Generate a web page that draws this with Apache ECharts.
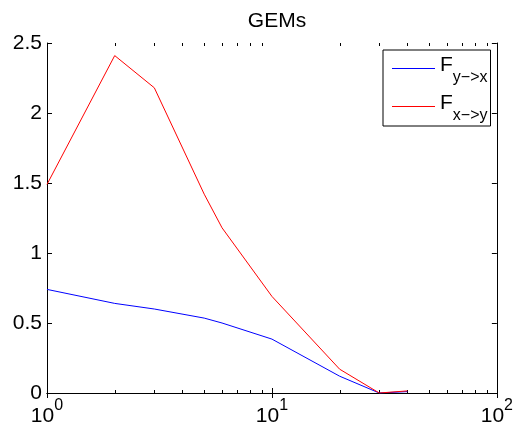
<!DOCTYPE html>
<html>
<head>
<meta charset="utf-8">
<script src="https://cdn.jsdelivr.net/npm/echarts@6/dist/echarts.min.js"></script>
<style>
  html, body { margin: 0; padding: 0; background: #fff; }
  #chart { width: 516px; height: 427px; }
</style>
</head>
<body>
<div id="chart"></div>
<script>
// Lag values (log-scaled x) and the two causality measures
const lags = [1, 2, 3, 5, 6, 10, 20, 30, 40];
const fYtoX = [0.74, 0.64, 0.60, 0.535, 0.50, 0.385, 0.12, 0.0, 0.01];
const fXtoY = [1.49, 2.41, 2.18, 1.42, 1.18, 0.69, 0.17, 0.0, 0.015];
const seriesNames = ['F y->x', 'F x->y'];
const seriesSubs = ['y\u2212>x', 'x\u2212>y'];
const yTicks = [0, 0.5, 1, 1.5, 2, 2.5];
const xMinorTicks = [2, 3, 4, 5, 6, 7, 8, 9, 20, 30, 40, 50, 60, 70, 80, 90];

const FONT = 'Liberation Sans, Arial, Helvetica, sans-serif';
const chart = echarts.init(document.getElementById('chart'), null, { renderer: 'canvas' });

const axisLine = { show: true, lineStyle: { color: '#000', width: 1 } };
const tickStyle = { show: true, inside: true, length: 5, lineStyle: { color: '#000', width: 1 } };

function pairs(ys) {
  return lags.map((x, i) => [x, ys[i]]);
}

chart.setOption({
  animation: false,
  backgroundColor: '#fff',
  title: {
    text: 'GEMs',
    left: 272,
    textAlign: 'center',
    top: 6,
    textStyle: { fontFamily: FONT, fontSize: 21, fontWeight: 'normal', color: '#000' }
  },
  grid: { left: 47, right: 18, top: 43, bottom: 34, show: false },
  legend: {
    orient: 'vertical',
    left: 383,
    top: 50,
    padding: [1, 3, 2, 9],
    itemGap: 3,
    itemWidth: 43,
    itemHeight: 1,
    icon: 'rect',
    backgroundColor: '#fff',
    borderColor: '#000',
    borderWidth: 1,
    borderRadius: 0,
    data: seriesNames,
    formatter: function (name) {
      const i = seriesNames.indexOf(name);
      return '{f|F}{s|' + seriesSubs[i] + '}';
    },
    textStyle: {
      color: '#000',
      fontFamily: FONT,
      rich: {
        f: { fontFamily: FONT, fontSize: 21, lineHeight: 35, padding: [4, 0, 0, 0], verticalAlign: 'top', color: '#000' },
        s: { fontFamily: FONT, fontSize: 16, verticalAlign: 'bottom', color: '#000' }
      }
    }
  },
  xAxis: [
    {
      type: 'log',
      logBase: 10,
      min: 1,
      max: 100,
      position: 'bottom',
      axisLine: axisLine,
      axisTick: tickStyle,
      splitLine: { show: false },
      axisLabel: {
        margin: 5,
        color: '#000',
        formatter: function (v) {
          return '{b|10}{s|' + Math.round(Math.log10(v)) + '}';
        },
        rich: {
          b: { fontFamily: FONT, fontSize: 21, lineHeight: 29, verticalAlign: 'bottom', color: '#000' },
          s: { fontFamily: FONT, fontSize: 16, verticalAlign: 'top', color: '#000' }
        }
      }
    },
    {
      type: 'log',
      logBase: 10,
      min: 1,
      max: 100,
      position: 'top',
      axisLine: axisLine,
      axisTick: tickStyle,
      axisLabel: { show: false },
      splitLine: { show: false }
    }
  ],
  yAxis: [
    {
      type: 'value',
      min: yTicks[0],
      max: yTicks[yTicks.length - 1],
      interval: 0.5,
      position: 'left',
      axisLine: axisLine,
      axisTick: tickStyle,
      splitLine: { show: false },
      axisLabel: {
        margin: 5,
        color: '#000',
        fontFamily: FONT,
        fontSize: 21,
        formatter: function (v) { return String(v); }
      }
    },
    {
      type: 'value',
      min: yTicks[0],
      max: yTicks[yTicks.length - 1],
      interval: 0.5,
      position: 'right',
      axisLine: axisLine,
      axisTick: tickStyle,
      axisLabel: { show: false },
      splitLine: { show: false }
    }
  ],
  series: [
    {
      name: seriesNames[0],
      type: 'line',
      xAxisIndex: 0,
      yAxisIndex: 0,
      data: pairs(fYtoX),
      symbol: 'none',
      showSymbol: false,
      color: '#0000ff',
      lineStyle: { color: '#0000ff', width: 1 },
      z: 3
    },
    {
      name: seriesNames[1],
      type: 'line',
      xAxisIndex: 0,
      yAxisIndex: 0,
      data: pairs(fXtoY),
      symbol: 'none',
      showSymbol: false,
      color: '#ff0000',
      lineStyle: { color: '#ff0000', width: 1 },
      z: 3
    }
  ]
});

// Minor log ticks (2..9 per decade) on the bottom and top edges of the box
const yBottom = chart.convertToPixel({ yAxisIndex: 0 }, yTicks[0]);
const yTop = chart.convertToPixel({ yAxisIndex: 0 }, yTicks[yTicks.length - 1]);
const minorLen = 3;
const minorGraphics = [];
xMinorTicks.forEach(function (v) {
  const px = Math.round(chart.convertToPixel({ xAxisIndex: 0 }, v)) + 0.5;
  minorGraphics.push({
    type: 'line',
    shape: { x1: px, y1: yBottom, x2: px, y2: yBottom - minorLen },
    style: { stroke: '#000', lineWidth: 1 },
    silent: true
  });
  minorGraphics.push({
    type: 'line',
    shape: { x1: px, y1: yTop, x2: px, y2: yTop + minorLen },
    style: { stroke: '#000', lineWidth: 1 },
    silent: true
  });
});
chart.setOption({ graphic: minorGraphics });
</script>
</body>
</html>
